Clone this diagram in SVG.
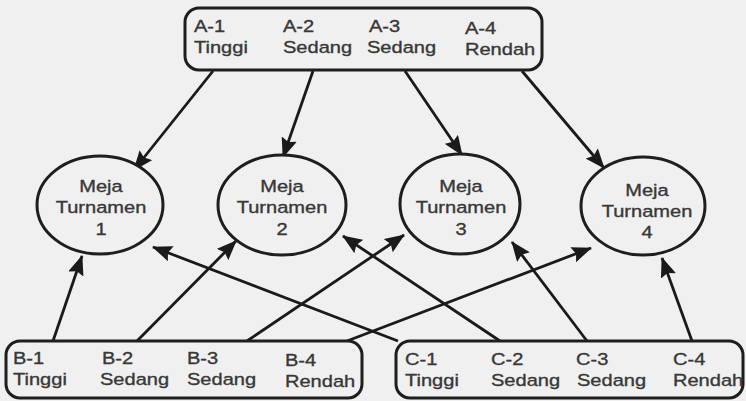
<svg xmlns="http://www.w3.org/2000/svg" width="746" height="401" viewBox="0 0 746 401">
  <defs>
    <marker id="arrow" markerUnits="userSpaceOnUse" markerWidth="20" markerHeight="16" viewBox="0 0 20 16" refX="19" refY="8" orient="auto">
      <path d="M0,0 L20,8 L0,16 L3,8 z" fill="#1a1a1a"/>
    </marker>
  </defs>
  <style>
    .bg { fill: #f0f0f0; }
    .box { fill: #f0f0f0; stroke: #1e1e1e; stroke-width: 3; }
    .node { fill: #f0f0f0; stroke: #1e1e1e; stroke-width: 3; }
    .t { font-family: "Liberation Sans", Arial, Helvetica, sans-serif; font-size: 17px; fill: #383838;
         stroke: #383838; stroke-width: 0.35;
         transform-box: fill-box; transform-origin: 0 0; transform: scaleX(1.18); }
    .c { text-anchor: middle; transform-origin: 50% 50%; }
    .edge { stroke: #1a1a1a; stroke-width: 2.8; fill: none; marker-end: url(#arrow); }
  </style>

  <rect class="bg" x="0" y="0" width="746" height="401"/>

  <!-- connectors -->
  <g id="connectors">
    <line class="edge" x1="213" y1="71" x2="134" y2="170"/>
    <line class="edge" x1="313" y1="71" x2="283" y2="157"/>
    <line class="edge" x1="405" y1="71" x2="462" y2="155"/>
    <line class="edge" x1="522" y1="71" x2="604" y2="168"/>
    <line class="edge" x1="53" y1="341" x2="82" y2="256"/>
    <line class="edge" x1="137" y1="341" x2="236" y2="241"/>
    <line class="edge" x1="247" y1="341" x2="404" y2="235"/>
    <line class="edge" x1="347" y1="341" x2="591" y2="248"/>
    <line class="edge" x1="398" y1="341" x2="153" y2="247"/>
    <line class="edge" x1="500" y1="341" x2="343" y2="236"/>
    <line class="edge" x1="587" y1="341" x2="512" y2="242"/>
    <line class="edge" x1="692" y1="341" x2="662" y2="258"/>
  </g>

  <!-- home group A -->
  <g id="group-a">
    <rect class="box" x="185" y="8" width="357" height="62" rx="14"/>
    <text class="t" x="194" y="32">A-1</text>
    <text class="t" x="194" y="53">Tinggi</text>
    <text class="t" x="283" y="32">A-2</text>
    <text class="t" x="283" y="53">Sedang</text>
    <text class="t" x="369" y="32">A-3</text>
    <text class="t" x="367" y="53">Sedang</text>
    <text class="t" x="465" y="34">A-4</text>
    <text class="t" x="465" y="55">Rendah</text>
  </g>

  <!-- tournament tables -->
  <g id="meja-1">
    <ellipse class="node" cx="100" cy="205" rx="63" ry="49"/>
    <text class="t c" x="101" y="192">Meja</text>
    <text class="t c" x="101" y="213">Turnamen</text>
    <text class="t c" x="101" y="235">1</text>
  </g>
  <g id="meja-2">
    <ellipse class="node" cx="282" cy="205" rx="64" ry="50"/>
    <text class="t c" x="282" y="192">Meja</text>
    <text class="t c" x="282" y="213">Turnamen</text>
    <text class="t c" x="282" y="235">2</text>
  </g>
  <g id="meja-3">
    <ellipse class="node" cx="460" cy="204" rx="60" ry="50"/>
    <text class="t c" x="461" y="192">Meja</text>
    <text class="t c" x="461" y="213">Turnamen</text>
    <text class="t c" x="461" y="235">3</text>
  </g>
  <g id="meja-4">
    <ellipse class="node" cx="643" cy="206" rx="62" ry="49"/>
    <text class="t c" x="647" y="196">Meja</text>
    <text class="t c" x="647" y="217">Turnamen</text>
    <text class="t c" x="647" y="238">4</text>
  </g>

  <!-- home group B -->
  <g id="group-b">
    <rect class="box" x="6" y="341" width="356" height="57" rx="14"/>
    <text class="t" x="13" y="364">B-1</text>
    <text class="t" x="13" y="385">Tinggi</text>
    <text class="t" x="102" y="364">B-2</text>
    <text class="t" x="100" y="385">Sedang</text>
    <text class="t" x="187" y="364">B-3</text>
    <text class="t" x="187" y="385">Sedang</text>
    <text class="t" x="285" y="366">B-4</text>
    <text class="t" x="285" y="387">Rendah</text>
  </g>

  <!-- home group C -->
  <g id="group-c">
    <rect class="box" x="396" y="341" width="347" height="57" rx="14"/>
    <text class="t" x="405" y="365">C-1</text>
    <text class="t" x="405" y="386">Tinggi</text>
    <text class="t" x="491" y="365">C-2</text>
    <text class="t" x="491" y="386">Sedang</text>
    <text class="t" x="576" y="365">C-3</text>
    <text class="t" x="577" y="386">Sedang</text>
    <text class="t" x="673" y="365">C-4</text>
    <text class="t" x="673" y="386">Rendah</text>
  </g>
</svg>
